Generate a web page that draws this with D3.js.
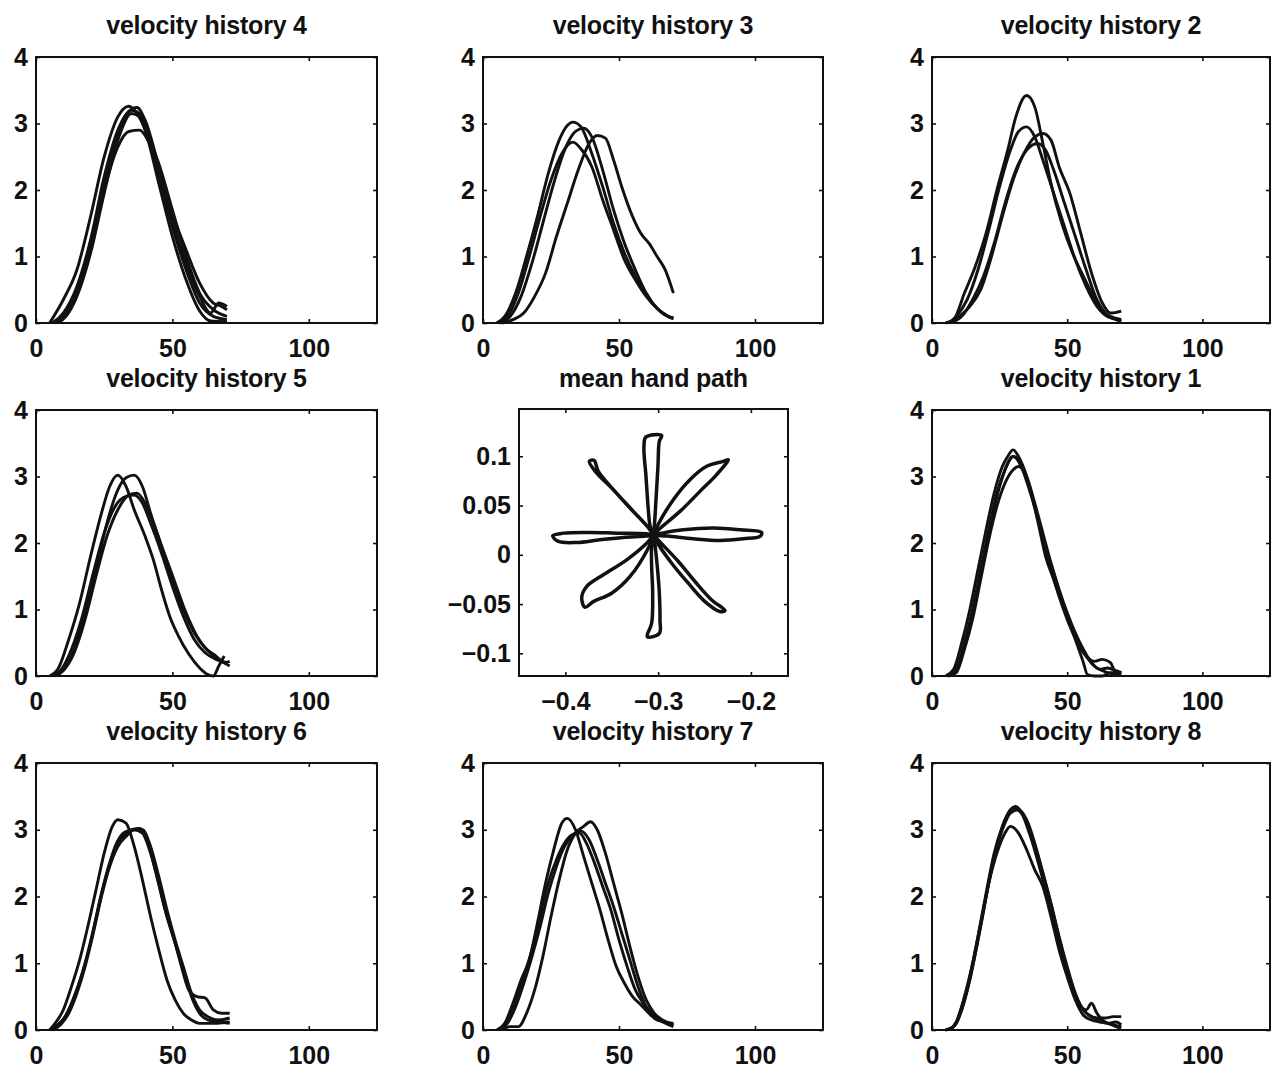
<!DOCTYPE html>
<html>
<head>
<meta charset="utf-8">
<script src="https://cdn.jsdelivr.net/npm/d3@7"></script>
<style>
  body { margin: 0; background: #fff; }
  text { font-family: "Liberation Sans", Arial, sans-serif; font-weight: bold; fill: #111; }
</style>
</head>
<body>
<svg id="fig" width="1271" height="1072"></svg>
<script>
// tick values
const velTicksX = [0, 50, 100];
const velTicksY = [0, 1, 2, 3, 4];
const pathTicksX = [-0.4, -0.3, -0.2];
const pathTicksY = [-0.1, -0.05, 0, 0.05, 0.1];

// velocity curves, [time, speed] pairs
const vel4 = [
  [[5,0],[10,0.35],[15,0.8],[20,1.6],[25,2.5],[30,3.1],[34,3.26],[37,3.15],[40,2.9],[45,2.1],[50,1.3],[55,0.65],[60,0.18],[64,0.03],[70,0.02]],
  [[6,0],[10,0.15],[15,0.55],[20,1.25],[25,2.2],[30,2.9],[35,3.2],[38,3.15],[41,2.85],[45,2.2],[50,1.45],[55,0.8],[60,0.3],[65,0.1],[70,0.05]],
  [[7,0],[10,0.1],[15,0.45],[20,1.1],[25,2.0],[30,2.65],[34,2.88],[38,2.9],[41,2.75],[45,2.35],[50,1.65],[55,1.1],[60,0.6],[65,0.3],[68,0.25],[70,0.2]],
  [[7,0],[10,0.12],[15,0.5],[20,1.2],[25,2.1],[30,2.85],[34,3.18],[37,3.24],[40,3.05],[45,2.35],[50,1.55],[55,0.9],[60,0.4],[64,0.15],[67,0.3],[70,0.25]],
  [[8,0],[11,0.1],[15,0.4],[20,1.05],[25,1.95],[30,2.75],[35,3.15],[38,3.1],[41,2.8],[45,2.4],[50,1.7],[55,1.0],[60,0.45],[65,0.2],[70,0.1]]
];
const vel3 = [
  [[5,0],[8,0.1],[12,0.45],[16,1.0],[20,1.6],[24,2.25],[28,2.75],[31,2.97],[33,3.02],[36,2.95],[40,2.55],[44,2.05],[48,1.5],[52,1.05],[56,0.7],[60,0.42],[64,0.22],[68,0.1],[70,0.08]],
  [[6,0],[9,0.1],[13,0.45],[17,1.0],[21,1.6],[25,2.15],[29,2.55],[33,2.72],[36,2.62],[40,2.35],[44,1.85],[48,1.4],[52,0.95],[56,0.65],[60,0.4],[64,0.22],[68,0.1],[70,0.06]],
  [[6,0],[10,0.1],[14,0.4],[18,0.9],[22,1.5],[26,2.1],[30,2.6],[34,2.88],[37,2.93],[40,2.8],[44,2.3],[48,1.7],[52,1.2],[56,0.8],[60,0.45],[64,0.22],[68,0.1],[70,0.07]],
  [[7,0],[11,0.05],[15,0.15],[19,0.4],[23,0.75],[27,1.3],[31,1.8],[35,2.3],[39,2.7],[42,2.82],[45,2.78],[48,2.45],[51,2.05],[55,1.6],[58,1.35],[61,1.2],[64,1.0],[67,0.8],[70,0.45]]
];
const vel2 = [
  [[5,0],[8,0.05],[12,0.45],[16,0.85],[20,1.35],[24,2.0],[28,2.6],[31,3.1],[35,3.42],[38,3.25],[41,2.7],[44,2.1],[48,1.5],[52,1.05],[56,0.7],[60,0.38],[64,0.12],[68,0.05],[70,0.02]],
  [[6,0],[9,0.1],[13,0.35],[17,0.8],[21,1.4],[25,2.05],[29,2.6],[32,2.88],[35,2.95],[38,2.8],[41,2.45],[45,1.95],[49,1.45],[53,0.95],[57,0.55],[61,0.25],[65,0.1],[70,0.05]],
  [[6,0],[10,0.1],[14,0.25],[18,0.5],[22,1.0],[26,1.6],[30,2.15],[34,2.55],[38,2.8],[41,2.85],[44,2.75],[47,2.35],[51,1.95],[55,1.35],[59,0.75],[63,0.3],[66,0.15],[70,0.18]],
  [[7,0],[11,0.1],[15,0.35],[19,0.7],[23,1.2],[27,1.8],[31,2.3],[35,2.6],[39,2.7],[42,2.6],[45,2.3],[49,1.8],[53,1.3],[57,0.8],[61,0.35],[65,0.12],[70,0.05]]
];
const vel5 = [
  [[5,0],[8,0.1],[12,0.55],[16,1.1],[20,1.8],[24,2.45],[27,2.85],[30,3.02],[33,2.85],[36,2.5],[40,2.1],[43,1.75],[46,1.3],[49,0.9],[52,0.62],[56,0.33],[60,0.12],[63,0.02],[65,0.0],[67,0.15],[69,0.3]],
  [[7,0],[10,0.1],[14,0.4],[18,0.95],[22,1.6],[26,2.3],[30,2.8],[33,2.98],[36,3.02],[39,2.85],[42,2.45],[46,1.95],[50,1.45],[54,1.0],[58,0.65],[62,0.42],[66,0.3],[69,0.2],[71,0.22]],
  [[7,0],[10,0.08],[14,0.35],[18,0.85],[22,1.5],[26,2.1],[30,2.5],[34,2.72],[37,2.75],[40,2.6],[43,2.3],[47,1.85],[51,1.4],[55,0.95],[59,0.6],[63,0.38],[67,0.25],[71,0.15]],
  [[6,0],[9,0.08],[13,0.4],[17,0.9],[21,1.55],[25,2.15],[29,2.55],[33,2.7],[36,2.72],[39,2.6],[42,2.3],[46,1.85],[50,1.35],[54,0.9],[58,0.55],[62,0.35],[66,0.25],[70,0.2]]
];
const vel1 = [
  [[5,0],[8,0.1],[11,0.5],[14,1.0],[17,1.6],[20,2.2],[23,2.75],[26,3.15],[28,3.3],[30,3.4],[32,3.3],[35,3.0],[38,2.55],[41,2.05],[44,1.6],[47,1.2],[50,0.85],[53,0.55],[56,0.2],[57.5,0.02],[60,0],[63,0],[66,0.05],[70,0.05]],
  [[6,0],[9,0.1],[12,0.5],[15,1.0],[18,1.6],[21,2.2],[24,2.75],[27,3.1],[30,3.3],[33,3.2],[36,2.85],[39,2.35],[42,1.8],[45,1.45],[48,1.1],[51,0.8],[54,0.5],[57,0.3],[60,0.22],[63,0.25],[66,0.2],[68,0.05],[70,0.05]],
  [[6,0],[9,0.05],[12,0.4],[15,0.85],[18,1.45],[21,2.05],[24,2.55],[27,2.9],[30,3.1],[32,3.15],[35,3.0],[38,2.6],[41,2.15],[44,1.7],[47,1.3],[50,0.95],[53,0.65],[56,0.4],[59,0.2],[62,0.1],[65,0.12],[68,0.08],[70,0.05]],
  [[7,0],[10,0.2],[13,0.6],[16,1.15],[19,1.75],[22,2.35],[25,2.85],[28,3.2],[30,3.3],[33,3.15],[36,2.8],[39,2.4],[42,1.95],[45,1.55],[48,1.15],[51,0.8],[54,0.5],[57,0.3],[60,0.15],[63,0.08],[66,0.04],[70,0.02]]
];
const vel6 = [
  [[5,0],[7,0.1],[10,0.3],[13,0.65],[16,1.05],[19,1.55],[22,2.1],[25,2.65],[28,3.05],[30,3.15],[33,3.1],[36,2.75],[39,2.25],[42,1.7],[45,1.2],[48,0.75],[51,0.45],[54,0.25],[57,0.15],[60,0.1],[65,0.1],[71,0.12]],
  [[5,0],[8,0.08],[11,0.22],[14,0.5],[17,0.85],[20,1.3],[23,1.85],[26,2.35],[29,2.75],[32,2.95],[35,3.0],[38,3.02],[41,2.8],[44,2.35],[47,1.85],[50,1.45],[53,1.0],[56,0.6],[59,0.5],[62,0.48],[65,0.3],[68,0.25],[71,0.25]],
  [[6,0],[9,0.1],[12,0.3],[15,0.6],[18,1.0],[21,1.5],[24,2.05],[27,2.5],[30,2.8],[33,2.95],[36,3.0],[39,2.95],[42,2.65],[45,2.2],[48,1.7],[51,1.3],[54,0.9],[57,0.5],[60,0.25],[63,0.15],[67,0.12],[71,0.1]],
  [[6,0],[9,0.08],[12,0.25],[15,0.55],[18,0.95],[21,1.45],[24,2.0],[27,2.45],[30,2.75],[33,2.9],[36,3.0],[39,3.0],[42,2.75],[45,2.3],[48,1.8],[51,1.35],[54,0.95],[57,0.55],[60,0.3],[63,0.2],[67,0.15],[71,0.18]]
];
const vel7 = [
  [[5,0],[8,0.1],[11,0.4],[14,0.75],[17,1.05],[20,1.6],[23,2.2],[26,2.7],[29,3.1],[31,3.17],[34,3.0],[37,2.6],[40,2.2],[43,1.8],[46,1.35],[49,0.95],[52,0.7],[55,0.5],[58,0.38],[61,0.25],[64,0.15],[67,0.12],[70,0.08]],
  [[7,0],[10,0.05],[13,0.05],[16,0.25],[19,0.6],[22,1.1],[25,1.7],[28,2.25],[31,2.7],[34,2.95],[37,3.05],[39.5,3.12],[42,3.0],[45,2.65],[48,2.2],[51,1.75],[54,1.25],[57,0.8],[60,0.45],[63,0.25],[66,0.15],[70,0.08]],
  [[6,0],[9,0.1],[12,0.35],[15,0.7],[18,1.1],[21,1.55],[24,2.05],[27,2.45],[30,2.75],[33,2.92],[36,2.98],[39,2.85],[42,2.55],[45,2.2],[48,1.85],[51,1.45],[54,1.05],[57,0.65],[60,0.35],[63,0.2],[66,0.13],[70,0.1]],
  [[6,0],[9,0.15],[12,0.45],[15,0.8],[18,1.2],[21,1.7],[24,2.2],[27,2.55],[30,2.8],[33,2.93],[35.5,2.95],[38,2.8],[41,2.5],[44,2.15],[47,1.8],[50,1.35],[53,0.95],[56,0.6],[59,0.4],[62,0.25],[65,0.15],[70,0.05]]
];
const vel8 = [
  [[5,0],[8,0.05],[11,0.35],[14,0.8],[17,1.4],[20,2.05],[23,2.65],[26,3.05],[29,3.3],[31,3.35],[34,3.2],[37,2.9],[40,2.5],[43,2.05],[46,1.55],[49,1.05],[52,0.65],[55,0.35],[58,0.22],[61,0.18],[64,0.18],[67,0.2],[70,0.2]],
  [[6,0],[9,0.1],[12,0.45],[15,0.95],[18,1.55],[21,2.2],[24,2.75],[27,3.15],[30,3.32],[33,3.25],[36,2.95],[39,2.55],[42,2.1],[45,1.6],[48,1.1],[51,0.7],[54,0.42],[57,0.3],[59,0.4],[61,0.25],[64,0.12],[67,0.08],[70,0.05]],
  [[6,0],[9,0.12],[12,0.5],[15,1.0],[18,1.6],[21,2.2],[24,2.65],[27,2.95],[29,3.05],[32,2.95],[35,2.7],[38,2.4],[41,2.15],[44,1.7],[47,1.2],[50,0.8],[53,0.45],[56,0.22],[59,0.15],[62,0.12],[65,0.1],[68,0.05],[70,0.03]],
  [[5,0],[8,0.05],[11,0.3],[14,0.75],[17,1.35],[20,2.0],[23,2.6],[26,3.0],[29,3.25],[32,3.3],[35,3.15],[38,2.8],[41,2.35],[44,1.9],[47,1.4],[50,0.95],[53,0.55],[56,0.3],[59,0.2],[62,0.15],[65,0.1],[68,0.12],[70,0.08]]
];

// mean hand path, one closed loop per direction from the start point, [x, y] in metres
const handStart = [-0.305, 0.02];
const handLoops = [
  [[-0.3088,0.0300],[-0.3106,0.0458],[-0.3131,0.0797],[-0.3153,0.1102],[-0.3131,0.1197],[-0.2962,0.1211],[-0.2987,0.1153],[-0.3002,0.0899],[-0.3023,0.0560],[-0.3040,0.0300]],
  [[-0.2990,0.0260],[-0.2764,0.0441],[-0.2549,0.0644],[-0.2369,0.0814],[-0.2243,0.0966],[-0.2297,0.0949],[-0.2477,0.0899],[-0.2657,0.0763],[-0.2836,0.0560],[-0.3010,0.0290]],
  [[-0.2960,0.0220],[-0.2729,0.0254],[-0.2405,0.0271],[-0.2118,0.0254],[-0.1884,0.0227],[-0.1902,0.0187],[-0.2082,0.0163],[-0.2333,0.0146],[-0.2621,0.0163],[-0.2900,0.0190]],
  [[-0.2980,0.0130],[-0.2782,-0.0068],[-0.2603,-0.0271],[-0.2423,-0.0458],[-0.2279,-0.0566],[-0.2333,-0.0576],[-0.2495,-0.0475],[-0.2675,-0.0288],[-0.2854,-0.0085],[-0.3000,0.0110]],
  [[-0.3034,0.0100],[-0.3009,-0.0119],[-0.2987,-0.0390],[-0.2980,-0.0661],[-0.2987,-0.0797],[-0.3117,-0.0831],[-0.3070,-0.0695],[-0.3059,-0.0390],[-0.3070,-0.0119],[-0.3070,0.0100]],
  [[-0.3110,0.0130],[-0.3339,-0.0051],[-0.3591,-0.0203],[-0.3771,-0.0322],[-0.3824,-0.0431],[-0.3789,-0.0532],[-0.3699,-0.0475],[-0.3501,-0.0390],[-0.3303,-0.0220],[-0.3100,0.0080]],
  [[-0.3130,0.0214],[-0.3447,0.0220],[-0.3735,0.0227],[-0.4022,0.0220],[-0.4137,0.0193],[-0.4076,0.0136],[-0.3878,0.0125],[-0.3627,0.0153],[-0.3375,0.0176],[-0.3130,0.0190]],
  [[-0.3090,0.0260],[-0.3303,0.0475],[-0.3501,0.0678],[-0.3663,0.0831],[-0.3742,0.0949],[-0.3691,0.0960],[-0.3645,0.0848],[-0.3465,0.0644],[-0.3267,0.0441],[-0.3110,0.0280]]
];

const svg = d3.select("#fig");
const fontSize = 25;

const velPanels = [
  { title: "velocity history 4", curves: vel4, col: 0, row: 0 },
  { title: "velocity history 3", curves: vel3, col: 1, row: 0 },
  { title: "velocity history 2", curves: vel2, col: 2, row: 0 },
  { title: "velocity history 5", curves: vel5, col: 0, row: 1 },
  { title: "velocity history 1", curves: vel1, col: 2, row: 1 },
  { title: "velocity history 6", curves: vel6, col: 0, row: 2 },
  { title: "velocity history 7", curves: vel7, col: 1, row: 2 },
  { title: "velocity history 8", curves: vel8, col: 2, row: 2 }
];

const colLeft = [36, 483, 932];
const colRight = [377, 823, 1270];
const rowTop = [57, 410, 763];
const rowBottom = [323, 676, 1030];

function frame(g, x, y, xt, yt, fmt) {
  const [x0, x1] = x.range();
  const [y0, y1] = y.range();
  g.append("rect")
    .attr("x", x0).attr("y", y1)
    .attr("width", x1 - x0).attr("height", y0 - y1)
    .attr("fill", "none").attr("stroke", "#111").attr("stroke-width", 2);

  const bottom = g.append("g").attr("transform", `translate(0,${y0})`)
    .call(d3.axisBottom(x).tickValues(xt).tickSize(-4).tickSizeOuter(0).tickPadding(16).tickFormat(fmt));
  const top = g.append("g").attr("transform", `translate(0,${y1})`)
    .call(d3.axisTop(x).tickValues(xt).tickSize(-4).tickSizeOuter(0).tickFormat(""));
  const left = g.append("g").attr("transform", `translate(${x0},0)`)
    .call(d3.axisLeft(y).tickValues(yt).tickSize(-4).tickSizeOuter(0).tickPadding(8).tickFormat(fmt));
  const right = g.append("g").attr("transform", `translate(${x1},0)`)
    .call(d3.axisRight(y).tickValues(yt).tickSize(-4).tickSizeOuter(0).tickFormat(""));

  [bottom, top, left, right].forEach(a => {
    a.select(".domain").remove();
    a.selectAll(".tick line").attr("stroke", "#111").attr("stroke-width", 1.6);
    a.selectAll("text").attr("font-size", fontSize).attr("fill", "#111")
      .attr("font-family", '"Liberation Sans", Arial, sans-serif').attr("font-weight", "bold");
  });
}

function title(g, text, cx, y) {
  g.append("text")
    .attr("x", cx).attr("y", y)
    .attr("text-anchor", "middle")
    .attr("font-size", fontSize)
    .attr("letter-spacing", -0.2)
    .text(text);
}

const velLine = d3.line().curve(d3.curveMonotoneX);

velPanels.forEach(p => {
  const x = d3.scaleLinear().domain([0, 125]).range([colLeft[p.col], colRight[p.col]]);
  const y = d3.scaleLinear().domain([0, 4]).range([rowBottom[p.row], rowTop[p.row]]);
  const g = svg.append("g");

  g.selectAll("path.curve")
    .data(p.curves)
    .enter().append("path")
    .attr("class", "curve")
    .attr("d", d => velLine.x(c => x(c[0])).y(c => y(c[1]))(d))
    .attr("fill", "none")
    .attr("stroke", "#111")
    .attr("stroke-width", 2.9)
    .attr("stroke-linejoin", "round");

  frame(g, x, y, velTicksX, velTicksY, d3.format("~g"));
  title(g, p.title, (colLeft[p.col] + colRight[p.col]) / 2, rowTop[p.row] - 23);
});

// centre panel: mean hand path
{
  const x = d3.scaleLinear().domain([-0.45, -0.16]).range([519, 788]);
  const y = d3.scaleLinear().domain([-0.123, 0.148]).range([676, 409]);
  const g = svg.append("g");
  const loop = d3.line().curve(d3.curveCatmullRomClosed.alpha(0.5))
    .x(d => x(d[0])).y(d => y(d[1]));

  g.selectAll("path.loop")
    .data(handLoops.map(l => [handStart].concat(l)))
    .enter().append("path")
    .attr("class", "loop")
    .attr("d", loop)
    .attr("fill", "none")
    .attr("stroke", "#111")
    .attr("stroke-width", 3.5)
    .attr("stroke-linejoin", "round");

  frame(g, x, y, pathTicksX, pathTicksY, d3.format("~g"));
  title(g, "mean hand path", (519 + 788) / 2, 409 - 22);
}
</script>
</body>
</html>
